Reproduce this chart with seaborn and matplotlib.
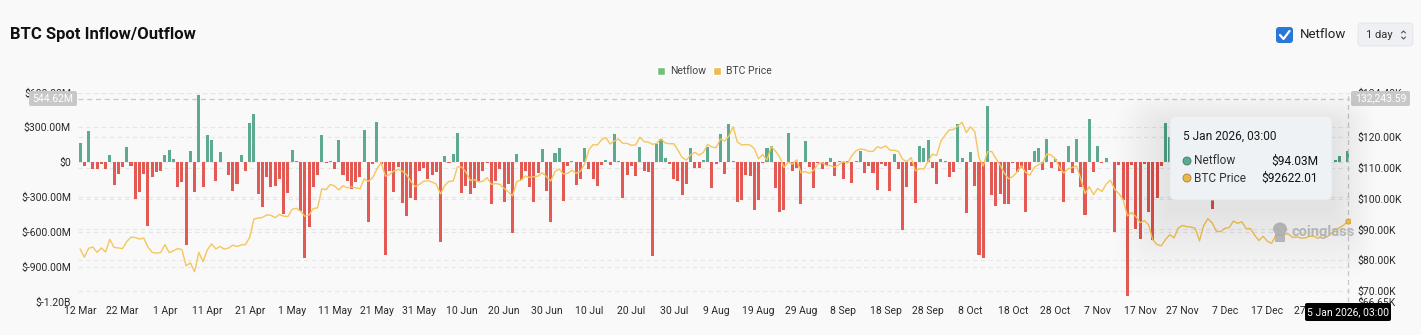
import datetime as dt
import numpy as np
import pandas as pd
import matplotlib
matplotlib.use("Agg")
import matplotlib.pyplot as plt
import seaborn as sns
from matplotlib.patches import FancyBboxPatch, Rectangle, Ellipse
from matplotlib.lines import Line2D
from matplotlib.transforms import IdentityTransform

# ---------------- data ----------------
start_date = dt.date(2025, 3, 12)
n_days = 300

netflow_m = [
    164, -37, 267, -63, -57, -17, -57, 66, -200, -100,
    -43, 130, -29, -319, -253, -103, -552, -129, -86, -72,
    63, 103, 29, -210, -167, -713, 100, -253, 578, -218,
    230, 193, -158, 89, 2, -112, -247, -187, 60, -72,
    339, 411, -276, -388, -126, -213, -201, -141, -445, -267,
    109, 14, -420, -828, -555, -210, -109, 236, -9, 6,
    -55, 187, -112, -158, -227, -167, -129, 276, -517, -14,
    342, -20, -802, -80, -253, -43, -351, -460, -310, -330,
    -80, -52, -144, -109, -86, -684, 55, -6, 72, 253,
    -267, -204, -276, -224, -158, -75, -6, -359, -164, -55,
    -339, -190, -612, 72, -155, -80, -210, -339, -92, 115,
    -247, -512, 80, 126, -336, -29, 11, -195, -144, 121,
    -57, -141, -204, -23, 17, -26, 239, 11, -310, -109,
    -29, -115, 129, -75, -83, -805, 155, 198, 34, -17,
    -147, -161, -284, -184, 121, -49, -49, 17, 129, -224,
    -17, 244, -103, 328, 11, -339, -322, -112, -115, -411,
    -325, -11, 118, 138, -224, -431, -408, 247, -80, -52,
    -359, 178, -40, -221, -11, -55, -23, 37, -115, 10,
    -144, 9, -181, 9, 98, -89, -37, -95, -239, -14,
    -34, -247, 72, -60, -583, -210, -29, -351, 138, 124,
    190, -49, -187, 29, 9, -129, -83, 328, 40, -437,
    89, -207, -799, -822, 486, -282, -374, -276, -359, -359,
    -6, -86, -49, -431, -66, 95, 118, -66, 198, -52,
    26, -78, -345, 135, -95, 201, -216, -454, 371, -86,
    135, -9, 40, 3, -600, -26, -330, -1150, -26, -578,
    -661, -14, -431, -669, -305, -34, 336, 220, 150, -80,
    60, -120, -200, 40, -330, -60, -150, -400, 30, -90,
    120, -40, -180, 80, -110, -20, 60, -140, -70, 100,
    -50, -160, 20, -90, 45, -120, -30, 70, -60, -200,
    30, -80, 50, -40, 25, -66, 17, 57, 5, 94.03,
]

btc_price_k = [
    # Mar 12-31
    83.7, 81.0, 83.9, 84.3, 82.6, 84.0, 82.7, 86.8, 84.2, 84.0,
    83.8, 86.1, 87.5, 87.4, 86.9, 87.2, 84.3, 82.6, 82.3, 82.5,
    # Apr
    85.1, 82.5, 83.1, 83.8, 83.5, 78.2, 79.2, 76.3, 82.6, 79.6,
    83.4, 85.3, 83.7, 84.5, 83.6, 84.0, 84.9, 84.5, 85.0, 85.1,
    87.5, 93.4, 93.7, 93.9, 94.7, 94.6, 93.8, 94.9, 94.3, 94.2,
    # May
    96.5, 96.9, 95.9, 94.3, 94.7, 96.8, 97.0, 103.2, 102.9, 104.6,
    104.1, 102.8, 104.2, 103.5, 103.8, 103.5, 103.2, 106.4, 105.6, 106.8,
    109.6, 111.7, 107.3, 107.8, 109.0, 109.4, 108.9, 107.8, 105.6, 103.9, 104.6,
    # Jun
    105.6, 105.8, 105.4, 104.7, 101.5, 104.3, 105.6, 105.7, 110.3, 110.2,
    108.6, 105.9, 106.1, 105.4, 105.6, 106.8, 104.6, 104.9, 104.6, 103.3,
    102.2, 100.9, 105.6, 106.0, 107.3, 106.9, 107.1, 107.3, 108.4, 107.1,
    # Jul
    105.7, 108.8, 109.6, 108.0, 108.2, 109.2, 108.2, 108.9, 111.3, 115.9,
    117.5, 117.4, 119.1, 119.8, 117.7, 118.7, 119.3, 117.9, 117.9, 117.3,
    117.4, 119.9, 118.5, 118.3, 117.6, 117.9, 119.4, 118.0, 117.8, 117.8, 115.7,
    # Aug
    113.3, 112.5, 114.2, 115.0, 114.1, 115.0, 117.5, 116.7, 116.5, 119.3,
    118.7, 120.2, 123.3, 118.4, 117.4, 117.5, 117.4, 116.2, 112.9, 114.3,
    112.5, 116.9, 115.4, 113.5, 110.1, 111.8, 111.2, 112.6, 108.4, 108.8, 108.2,
    # Sep
    109.2, 111.2, 111.7, 110.7, 110.7, 110.2, 111.1, 112.0, 111.5, 113.9,
    115.5, 116.1, 115.9, 115.3, 115.3, 116.8, 116.4, 117.1, 115.7, 115.7,
    115.3, 112.7, 112.0, 113.3, 109.0, 109.7, 109.6, 112.1, 114.4, 114.0,
    # Oct
    118.6, 120.6, 122.3, 122.4, 123.5, 124.8, 121.4, 123.3, 121.7, 113.2,
    110.6, 115.2, 115.3, 113.0, 110.8, 108.2, 106.4, 107.2, 108.7, 110.6,
    108.5, 107.6, 110.1, 111.0, 111.6, 114.5, 114.1, 112.9, 110.1, 108.3, 109.6,
    # Nov
    110.1, 110.6, 106.5, 101.6, 103.9, 101.3, 103.3, 102.3, 104.7, 106.0,
    103.0, 101.6, 99.7, 94.4, 95.5, 94.2, 92.2, 92.9, 91.5, 86.6,
    85.1, 84.7, 86.8, 88.3, 87.3, 90.5, 91.3, 90.9, 90.8, 90.4,
    # Dec
    86.3, 91.3, 93.5, 92.1, 89.4, 89.3, 90.4, 90.6, 92.7, 92.0,
    92.5, 90.3, 90.3, 88.2, 86.4, 87.8, 86.2, 85.5, 88.1, 88.3,
    88.6, 88.5, 87.4, 87.6, 87.2, 87.3, 87.8, 87.8, 87.1, 88.4, 87.5,
    # Jan
    88.7, 89.9, 90.6, 91.4, 92.62,
]

xtick_labels = ["12 Mar", "22 Mar", "1 Apr", "11 Apr", "21 Apr", "1 May", "11 May",
                "21 May", "31 May", "10 Jun", "20 Jun", "30 Jun", "10 Jul", "20 Jul",
                "30 Jul", "9 Aug", "19 Aug", "29 Aug", "8 Sep", "18 Sep", "28 Sep",
                "8 Oct", "18 Oct", "28 Oct", "7 Nov", "17 Nov", "27 Nov", "7 Dec",
                "17 Dec", "27 Dec"]
left_ticks_m = [600, 300, 0, -300, -600, -900, -1200]
left_tick_labels = ["$600.00M", "$300.00M", "$0", "$-300.00M", "$-600.00M",
                    "$-900.00M", "$-1.20B"]
right_ticks_k = [134.40, 120, 110, 100, 90, 80, 70, 66.65]
right_tick_labels = ["$134.40K", "$120.00K", "$110.00K", "$100.00K", "$90.00K",
                     "$80.00K", "$70.00K", "$66.65K"]

assert len(netflow_m) == n_days and len(btc_price_k) == n_days

df = pd.DataFrame({
    "day": np.arange(n_days),
    "netflow": netflow_m,
    "price": btc_price_k,
})
df["dir"] = np.where(df["netflow"] >= 0, "in", "out")

# ---------------- style ----------------
BG = "#f9f9f9"
GREEN = "#5daa90"
RED = "#e35a55"
GOLD = "#f5c65c"
GRID = "#e6e6e6"

sns.set_theme(style="white")
plt.rcParams["font.family"] = ["Roboto", "DejaVu Sans"]

W, H = 1421, 335
fig = plt.figure(figsize=(W / 100, H / 100), dpi=100, facecolor=BG)


def fx(px):
    return px / W


def fy(py):
    return 1 - py / H


AX_L, AX_R, AX_T, AX_B = 78, 1350, 92.5, 301.5
ax = fig.add_axes([fx(AX_L), fy(AX_B), fx(AX_R) - fx(AX_L), fy(AX_T) - fy(AX_B)])
ax.set_facecolor(BG)

LMIN, LMAX = -1200, 600
RMIN, RMAX = 66.65, 134.40

# gridlines (left and right axis ticks), drawn beneath bars
for v in left_ticks_m:
    ax.axhline(v, color=GRID, lw=0.8, ls=(0, (4, 3)), zorder=0)
for r in right_ticks_k:
    lv = LMIN + (r - RMIN) / (RMAX - RMIN) * (LMAX - LMIN)
    ax.axhline(lv, color=GRID, lw=0.8, ls=(0, (4, 3)), zorder=0)

sns.barplot(data=df, x="day", y="netflow", hue="dir",
            palette={"in": GREEN, "out": RED}, dodge=False, width=0.72,
            saturation=1, legend=False, linewidth=0, ax=ax, zorder=2)

ax.set_xlim(-0.5, n_days - 0.5)
ax.set_ylim(LMIN, LMAX)
ax.set_xticks(np.arange(0, n_days, 10))
ax.set_xticklabels(xtick_labels)
ax.set_yticks(left_ticks_m)
ax.set_yticklabels(left_tick_labels)
ax.tick_params(axis="both", length=0, labelsize=7.5, colors="#2a2a2a")
ax.tick_params(axis="y", pad=5)
ax.tick_params(axis="x", pad=3)
ax.set_xlabel("")
ax.set_ylabel("")
for s in ax.spines.values():
    s.set_visible(False)

# crosshair
ax.axhline(544.62, color="#c9c9c9", lw=0.9, ls=(0, (4, 3)), zorder=3)
ax.axvline(n_days - 1, color="#c9c9c9", lw=0.9, ls=(0, (4, 3)), zorder=3)

ax2 = ax.twinx()
sns.lineplot(data=df, x="day", y="price", ax=ax2, color=GOLD, lw=1.0)
ax2.scatter([n_days - 1], [btc_price_k[-1]], s=14, color=GOLD,
            edgecolor="#e0a93a", linewidth=0.6, zorder=5)
ax2.set_ylim(RMIN, RMAX)
ax2.set_yticks(right_ticks_k)
ax2.set_yticklabels(right_tick_labels)
ax2.tick_params(axis="y", length=0, labelsize=7.5, colors="#2a2a2a", pad=5)
ax2.set_xlim(-0.5, n_days - 0.5)
ax2.set_ylabel("")
ax2.set_xlabel("")
for s in ax2.spines.values():
    s.set_visible(False)

# ---------------- overlays in pixel coordinates ----------------
ID = IdentityTransform()


def rbox(x0, y0, x1, y1, fc, r=3, ec="none", lw=0, alpha=1, z=10):
    p = FancyBboxPatch((x0 + r, H - y1 + r), (x1 - x0) - 2 * r, (y1 - y0) - 2 * r,
                       boxstyle=f"round,pad={r}", fc=fc, ec=ec, lw=lw,
                       alpha=alpha, transform=ID, zorder=z)
    fig.patches.append(p)
    return p


def ptext(x, y, s, **kw):
    kw.setdefault("zorder", 13)
    return fig.text(fx(x), fy(y), s, **kw)


# Title & header controls
ptext(10, 34, "BTC Spot Inflow/Outflow", fontsize=12, fontweight="bold",
      color="#111111", va="center", ha="left")
rbox(1276, 27, 1293, 43, "#2a78d6", r=3)
fig.lines.append(Line2D([1280, 1283.5, 1289.5], [H - 35, H - 39, H - 31],
                        color="white", lw=1.6, transform=ID, zorder=12))
ptext(1300, 35, "Netflow", fontsize=9.5, color="#222222", va="center", ha="left")
rbox(1358, 23, 1413, 46, "#eef0f3", r=4, ec="#e2e4e8", lw=0.6)
ptext(1366, 35, "1 day", fontsize=8, color="#333333", va="center", ha="left")
fig.lines.append(Line2D([1401.5, 1403.5, 1405.5], [H - 33, H - 31, H - 33],
                        color="#555555", lw=0.8, transform=ID, zorder=12))
fig.lines.append(Line2D([1401.5, 1403.5, 1405.5], [H - 37, H - 39, H - 37],
                        color="#555555", lw=0.8, transform=ID, zorder=12))

# Legend
fig.patches.append(Rectangle((657, H - 75), 8, 8, fc="#72c17a", transform=ID, zorder=10))
ptext(670, 70.5, "Netflow", fontsize=7.5, color="#444444", va="center", ha="left")
fig.patches.append(Rectangle((713, H - 75), 8, 8, fc="#ecbb52", transform=ID, zorder=10))
ptext(726, 70.5, "BTC Price", fontsize=7.5, color="#444444", va="center", ha="left")

# crosshair tags
rbox(29, 91, 77, 106, "#c8c8c8", r=2)
ptext(53, 98.5, "544.62M", fontsize=7.5, color="white", va="center", ha="center")
rbox(1351, 91, 1410, 106, "#c8c8c8", r=2)
ptext(1380.5, 98.5, "132,243.59", fontsize=7.5, color="white", va="center",
      ha="center")
rbox(1305, 303, 1391, 321, "#000000", r=2)
ptext(1348, 312, "5 Jan 2026, 03:00", fontsize=7.5, color="white", va="center",
      ha="center")

# watermark
fig.patches.append(Ellipse((1280, H - 229), 14, 13, fc="#bdbdbd", ec="none",
                           transform=ID, zorder=9, alpha=0.9))
fig.patches.append(Rectangle((1275, H - 242), 10, 8, fc="#bdbdbd", ec="none",
                             transform=ID, zorder=9, alpha=0.9))
ptext(1291, 232, "coinglass", fontsize=10.5, fontweight="bold", color="#c4c4c4",
      va="center", ha="left", zorder=9)

# tooltip shadow + box (soft, diffuse, mostly below)
for i in range(22):
    g = 2.5 * (i + 1)
    rbox(1170 - g, 116 - g * 0.6 + 10, 1332 + g * 0.8, 200 + g * 1.3 + 10, "#000000",
         r=6 + g * 0.6, alpha=0.0055, z=10)
rbox(1170, 116, 1332, 200, "#eef2f5", r=6, ec="#e3e7ea", lw=0.6, z=11)
ptext(1183, 136, "5 Jan 2026, 03:00", fontsize=8.6, color="#1a1a1a",
      va="center", ha="left")
fig.patches.append(Ellipse((1187, H - 161), 8, 8, fc="#5daa90", ec="#3d7a66",
                           lw=0.6, transform=ID, zorder=12))
ptext(1194, 161, "Netflow", fontsize=8.6, color="#333333", va="center", ha="left")
ptext(1318, 161, "$94.03M", fontsize=8.6, color="#111111", va="center", ha="right")
fig.patches.append(Ellipse((1187, H - 178), 8, 8, fc="#e8b84a", ec="#a58030",
                           lw=0.6, transform=ID, zorder=12))
ptext(1194, 178, "BTC Price", fontsize=8.6, color="#333333", va="center", ha="left")
ptext(1318, 178, "$92622.01", fontsize=8.6, color="#111111", va="center", ha="right")

fig.savefig("out.png", dpi=100, facecolor=BG)
